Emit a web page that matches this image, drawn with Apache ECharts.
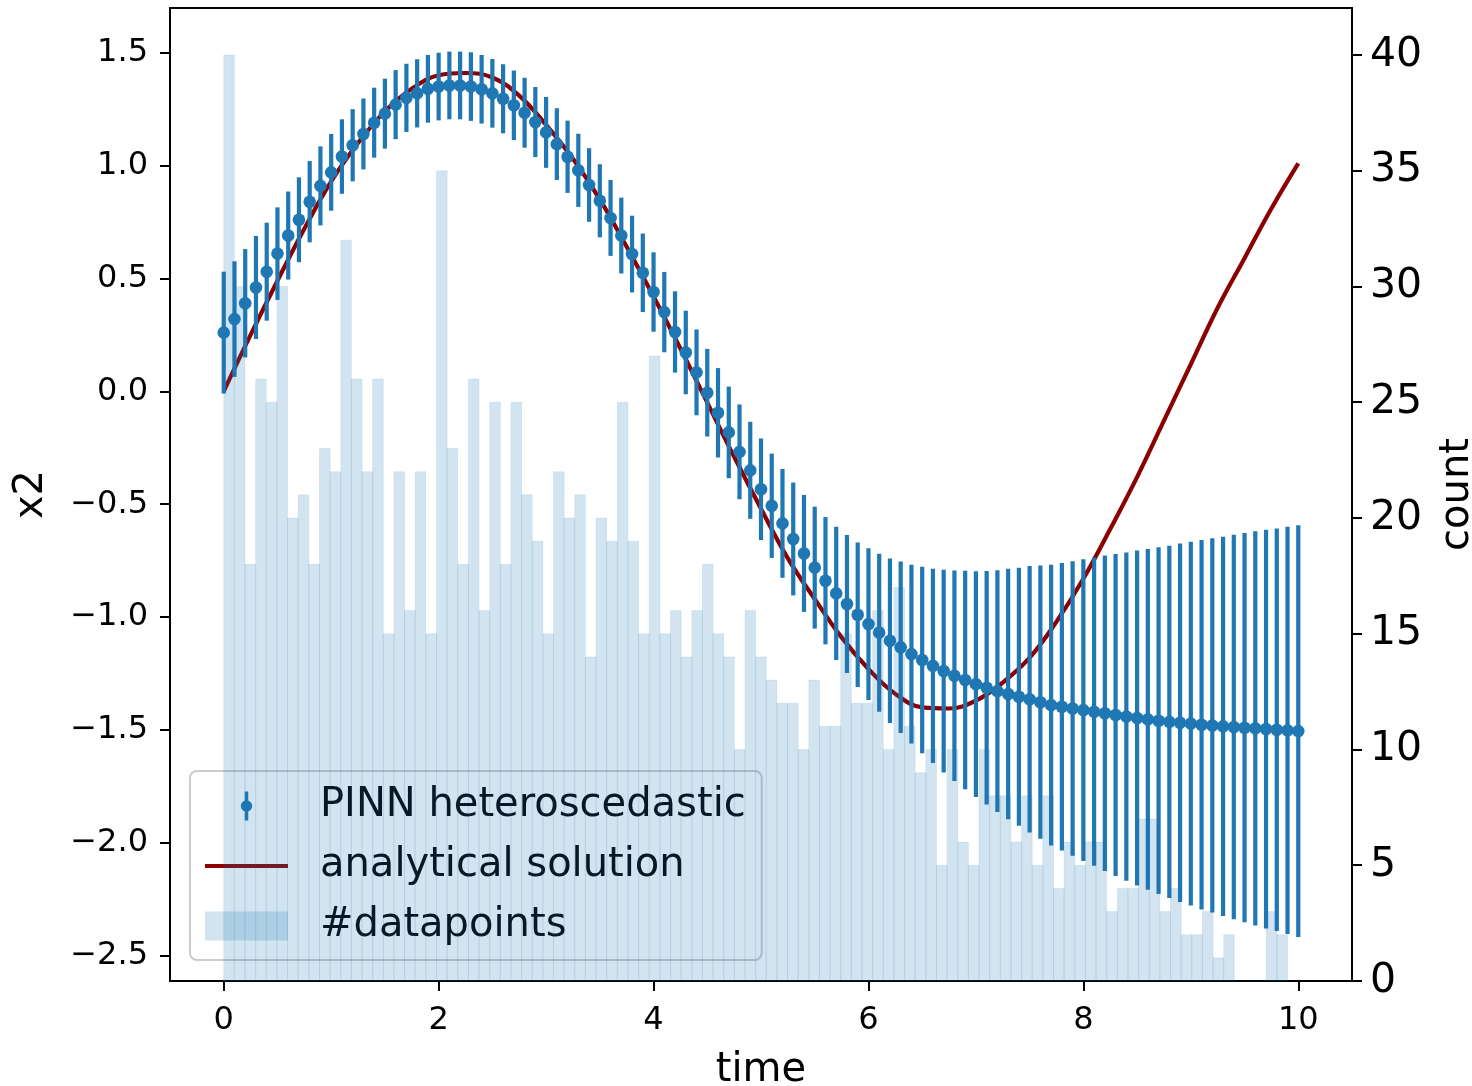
<!DOCTYPE html>
<html>
<head>
<meta charset="utf-8">
<title>PINN heteroscedastic x2</title>
<script src="https://cdn.jsdelivr.net/npm/echarts@6/dist/echarts.min.js"></script>
<style>
    html, body { margin: 0; padding: 0; background: #fff; }
    #chart { width: 1472px; height: 1086px; }
</style>
</head>
<body>
<div id="chart"></div>
<script>
// PINN prediction (mean and half width of the error bar), sampled every 0.1 in time
const tStep = 0.1;
const pinnMean = [
    0.26, 0.32, 0.39, 0.46, 0.53, 0.61, 0.69, 0.76, 0.84, 0.91,
    0.97, 1.04, 1.09, 1.14, 1.19, 1.23, 1.27, 1.30, 1.32, 1.34,
    1.35, 1.355, 1.355, 1.35, 1.338, 1.32, 1.296, 1.267, 1.234, 1.193,
    1.147, 1.095, 1.039, 0.979, 0.914, 0.844, 0.768, 0.69, 0.608, 0.525,
    0.44, 0.351, 0.263, 0.172, 0.084, -0.006, -0.095, -0.182, -0.268, -0.35,
    -0.434, -0.507, -0.585, -0.654, -0.718, -0.781, -0.839, -0.895, -0.942, -0.99,
    -1.031, -1.069, -1.105, -1.134, -1.164, -1.19, -1.216, -1.239, -1.26, -1.279,
    -1.297, -1.313, -1.328, -1.341, -1.353, -1.364, -1.377, -1.39, -1.397, -1.405,
    -1.412, -1.419, -1.426, -1.434, -1.441, -1.447, -1.453, -1.459, -1.464, -1.468,
    -1.472, -1.477, -1.48, -1.484, -1.487, -1.49, -1.493, -1.496, -1.499, -1.502,
    -1.505
];
const pinnErr = [
    0.27, 0.256, 0.24, 0.228, 0.217, 0.205, 0.195, 0.188, 0.18, 0.175,
    0.17, 0.165, 0.16, 0.157, 0.155, 0.155, 0.153, 0.151, 0.151, 0.15,
    0.15, 0.15, 0.15, 0.152, 0.152, 0.152, 0.153, 0.154, 0.155, 0.155,
    0.157, 0.159, 0.16, 0.162, 0.163, 0.162, 0.168, 0.168, 0.17, 0.174,
    0.176, 0.178, 0.18, 0.185, 0.19, 0.194, 0.198, 0.203, 0.21, 0.215,
    0.225, 0.231, 0.241, 0.25, 0.259, 0.27, 0.282, 0.295, 0.306, 0.32,
    0.336, 0.35, 0.364, 0.38, 0.396, 0.413, 0.43, 0.449, 0.466, 0.484,
    0.5, 0.517, 0.535, 0.555, 0.571, 0.59, 0.605, 0.622, 0.637, 0.652,
    0.668, 0.683, 0.699, 0.713, 0.727, 0.742, 0.755, 0.768, 0.78, 0.794,
    0.806, 0.818, 0.829, 0.84, 0.852, 0.862, 0.873, 0.883, 0.891, 0.902,
    0.912
];

// analytical solution, read every 0.25
const anaTime = [
    0, 0.25, 0.5, 0.75, 1, 1.25, 1.5, 1.75, 2, 2.25,
    2.5, 2.75, 3, 3.25, 3.5, 3.75, 4, 4.25, 4.5, 4.75,
    5, 5.25, 5.5, 5.75, 6, 6.25, 6.5, 6.75, 7, 7.25,
    7.5, 7.75, 8, 8.25, 8.5, 8.75, 9, 9.25, 9.5, 9.75, 10
];
const anaX2 = [
    0.00, 0.25, 0.49, 0.72, 0.93, 1.10, 1.24, 1.34, 1.40, 1.41,
    1.39, 1.31, 1.18, 1.03, 0.85, 0.64, 0.42, 0.19, -0.05, -0.29,
    -0.52, -0.74, -0.92, -1.09, -1.23, -1.34, -1.40, -1.405, -1.37, -1.29,
    -1.18, -1.02, -0.83, -0.61, -0.38, -0.13, 0.12, 0.37, 0.59, 0.81, 1.01
];

// histogram of the data points (100 bins)
const binWidth = 0.099;
const counts = [
    40, 30, 18, 26, 25, 30, 20, 21, 18, 23,
    22, 32, 26, 22, 26, 15, 22, 16, 22, 15,
    35, 23, 18, 26, 16, 25, 18, 25, 21, 19,
    15, 22, 20, 21, 14, 20, 19, 25, 19, 15,
    27, 15, 16, 14, 16, 18, 15, 14, 10, 16,
    14, 13, 12, 12, 10, 13, 11, 11, 15, 12,
    12, 16, 10, 17, 11, 9, 10, 5, 10, 6,
    5, 10, 8, 8, 6, 8, 5, 8, 4, 6,
    5, 6, 6, 3, 4, 4, 7, 7, 3, 4,
    2, 2, 3, 1, 2, 0, 0, 0, 3, 2
];

// tick labels
const xTicks = [0, 2, 4, 6, 8, 10];
const yTicks = [-2.5, -2, -1.5, -1, -0.5, 0, 0.5, 1, 1.5];
const countTicks = [0, 5, 10, 15, 20, 25, 30, 35, 40];

const C0 = '#1f77b4';
const FONT = 'DejaVu Sans';

const pinnData = pinnMean.map((m, i) => [i * tStep, m, pinnErr[i]]);
const anaData = anaTime.map((t, i) => [t, anaX2[i]]);
const histData = counts.map((c, i) => [i * binWidth, (i + 1) * binWidth, c]);

const fmtMinus = (v, d) => (v < 0 ? '\u2212' : '') + Math.abs(v).toFixed(d);

const chart = echarts.init(document.getElementById('chart'));

const option = {
    animation: false,
    backgroundColor: '#fff',
    textStyle: { fontFamily: FONT },
    grid: {
        left: 170, top: 8, width: 1182, height: 973,
        outerBoundsMode: 'none',
        containLabel: false,
        show: true, borderColor: '#000', borderWidth: 2
    },
    legend: {
        orient: 'vertical',
        left: 190, top: 771,
        padding: [15, 16, 14, 15],
        itemWidth: 83, itemHeight: 29, itemGap: 20,
        selectedMode: false,
        backgroundColor: 'rgba(255,255,255,0.8)',
        borderColor: '#cccccc', borderWidth: 2, borderRadius: 7,
        textStyle: { fontSize: 40, fontFamily: FONT, color: '#000', lineHeight: 40, padding: [0, 0, 0, 27] },
        data: [
            { name: 'PINN heteroscedastic',
              icon: 'path://M4.5,0 L8.5,0 L8.5,33 L4.5,33 Z M0,16.5 A6.5,6.5 0 1 1 13,16.5 A6.5,6.5 0 1 1 0,16.5 Z' },
            { name: 'analytical solution', icon: 'path://M0,0 L83,0 L83,4 L0,4 Z' },
            { name: '#datapoints', icon: 'rect' }
        ]
    },
    xAxis: {
        type: 'value', min: -0.5, max: 10.5,
        name: 'time', nameLocation: 'middle', nameGap: 70,
        nameTextStyle: { fontSize: 40, color: '#000', fontFamily: FONT },
        axisLine: { show: true, onZero: false, lineStyle: { color: '#000', width: 2 } },
        axisTick: { show: true, customValues: xTicks, length: 10, lineStyle: { color: '#000', width: 2 } },
        axisLabel: { customValues: xTicks, fontSize: 32, color: '#000', margin: 24 },
        splitLine: { show: false }
    },
    yAxis: [
        {
            type: 'value', min: -2.612, max: 1.698, position: 'left',
            name: 'x2', nameLocation: 'middle', nameGap: 118, nameRotate: 90,
            nameTextStyle: { fontSize: 40, color: '#000', fontFamily: FONT },
            axisLine: { show: true, onZero: false, lineStyle: { color: '#000', width: 2 } },
            axisTick: { show: true, customValues: yTicks, length: 10, lineStyle: { color: '#000', width: 2 } },
            axisLabel: { customValues: yTicks, fontSize: 32, color: '#000', margin: 22,
                         formatter: v => fmtMinus(v, 1) },
            splitLine: { show: false }
        },
        {
            type: 'value', min: 0, max: 42.03, position: 'right',
            name: 'count', nameLocation: 'middle', nameGap: 86, nameRotate: 90,
            nameTextStyle: { fontSize: 40, color: '#000', fontFamily: FONT },
            axisLine: { show: true, onZero: false, lineStyle: { color: '#000', width: 2 } },
            axisTick: { show: true, customValues: countTicks, length: 10, lineStyle: { color: '#000', width: 2 } },
            axisLabel: { customValues: countTicks, fontSize: 41, color: '#000', margin: 18 },
            splitLine: { show: false }
        }
    ],
    series: [
        {
            name: 'analytical solution',
            type: 'line',
            data: anaData,
            smooth: 0.4,
            symbol: 'none',
            z: 2,
            color: '#8b0000',
            lineStyle: { color: '#8b0000', width: 4.2 }
        },
        {
            name: 'PINN heteroscedastic',
            type: 'custom',
            data: pinnData,
            encode: { x: 0, y: 1 },
            z: 3,
            color: C0,
            renderItem: (params, api) => {
                const t = api.value(0), m = api.value(1), e = api.value(2);
                const hi = api.coord([t, m + e]);
                const lo = api.coord([t, m - e]);
                const c = api.coord([t, m]);
                return {
                    type: 'group',
                    children: [
                        { type: 'line', shape: { x1: hi[0], y1: hi[1], x2: lo[0], y2: lo[1] },
                          style: { stroke: C0, lineWidth: 4.2 } },
                        { type: 'circle', shape: { cx: c[0], cy: c[1], r: 6.3 },
                          style: { fill: C0 } }
                    ]
                };
            }
        },
        {
            // twin axis histogram is drawn over everything, legend included
            name: '#datapoints',
            type: 'custom',
            yAxisIndex: 1,
            data: histData,
            encode: { x: [0, 1], y: 2 },
            z: 10,
            color: 'rgba(31,119,180,0.2)',
            renderItem: (params, api) => {
                const p0 = api.coord([api.value(0), api.value(2)]);
                const p1 = api.coord([api.value(1), 0]);
                return {
                    type: 'rect',
                    shape: { x: p0[0], y: p0[1], width: p1[0] - p0[0], height: p1[1] - p0[1] },
                    style: { fill: 'rgba(31,119,180,0.2)', stroke: 'rgba(31,119,180,0.12)', lineWidth: 0.8 }
                };
            }
        }
    ]
};

chart.setOption(option);
</script>
</body>
</html>
